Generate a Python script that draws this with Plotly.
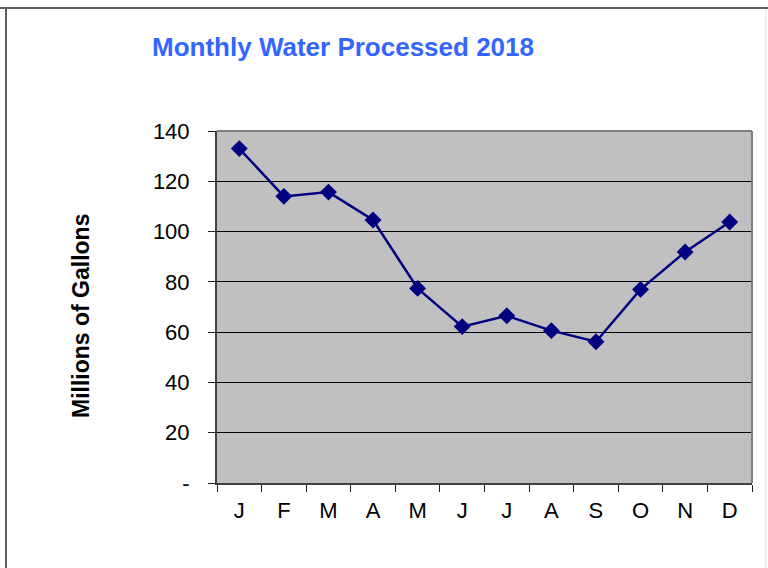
import plotly.graph_objects as go

month_labels = ["J", "F", "M", "A", "M", "J", "J", "A", "S", "O", "N", "D"]
water_millions_gal = [133.0, 114.0, 115.7, 104.6, 77.4, 62.2, 66.5, 60.6, 56.2, 77.0, 91.9, 103.8]
y_tick_values = [0, 20, 40, 60, 80, 100, 120, 140]
y_tick_labels = ["-", "20", "40", "60", "80", "100", "120", "140"]

W, H = 768, 568
L, R, T, B = 217, 16, 131, 85
pw, ph = W - L - R, H - T - B

def px_x(x):
    return (x - L) / pw

def px_y(y):
    return (H - B - y) / ph

x_pos = list(range(len(month_labels)))

fig = go.Figure()
fig.add_trace(go.Scatter(
    x=x_pos, y=water_millions_gal, mode="lines+markers",
    line=dict(color="#000080", width=2.5),
    marker=dict(symbol="diamond", size=13, color="#000080"),
    showlegend=False, cliponaxis=False,
))

fig.update_layout(
    width=W, height=H,
    margin=dict(l=L, r=R, t=T, b=B, pad=0),
    paper_bgcolor="white",
    plot_bgcolor="#C0C0C0",
    font=dict(family="Liberation Sans, Arial, sans-serif", color="black"),
    title=dict(
        text="<b>Monthly Water Processed 2018</b>",
        font=dict(size=26, color="#3366FF", family="Liberation Sans, Arial, sans-serif"),
        xref="container", yref="container",
        x=343 / W, xanchor="center",
        y=1 - 47 / H, yanchor="middle",
    ),
    xaxis=dict(
        range=[-0.5, len(month_labels) - 0.5],
        tickmode="array", tickvals=x_pos, ticktext=month_labels,
        ticks="", showgrid=False, zeroline=False,
        showline=True, linecolor="#404040", linewidth=2,
        tickfont=dict(size=22),
        ticklabelstandoff=7,
        minor=dict(tick0=-0.5, dtick=1, ticks="outside", ticklen=7,
                   tickcolor="#202020", tickwidth=1, showgrid=False),
        fixedrange=True,
    ),
    yaxis=dict(
        range=[0, 140],
        tickmode="array", tickvals=y_tick_values, ticktext=y_tick_labels,
        ticks="outside", ticklen=7, tickcolor="#202020", tickwidth=1,
        showgrid=True, gridcolor="#000000", gridwidth=1,
        zeroline=False,
        showline=True, linecolor="#404040", linewidth=2,
        tickfont=dict(size=22),
        ticklabelstandoff=14,
        fixedrange=True,
    ),
    annotations=[dict(
        text="<b>Millions of Gallons</b>",
        xref="paper", yref="paper",
        x=px_x(81), y=px_y(316),
        xanchor="center", yanchor="middle",
        textangle=-90, showarrow=False,
        font=dict(size=23, color="black"),
    )],
    shapes=[
        # plot area top and right borders
        dict(type="line", xref="paper", yref="paper", x0=0, x1=1, y0=1, y1=1,
             line=dict(color="#808080", width=2), layer="above"),
        dict(type="line", xref="paper", yref="paper", x0=1, x1=1, y0=0, y1=1,
             line=dict(color="#808080", width=2), layer="above"),
        # outer chart frame
        dict(type="line", xref="paper", yref="paper", x0=px_x(0), x1=px_x(W), y0=px_y(8), y1=px_y(8),
             line=dict(color="#606060", width=2), layer="above"),
        dict(type="line", xref="paper", yref="paper", x0=px_x(6), x1=px_x(6), y0=px_y(8), y1=px_y(H),
             line=dict(color="#606060", width=2), layer="above"),
        dict(type="line", xref="paper", yref="paper", x0=px_x(766), x1=px_x(766), y0=px_y(9), y1=px_y(H),
             line=dict(color="#DDDDDD", width=1), layer="above"),
    ],
)

fig.write_html(
    "out.html",
    config={"displayModeBar": False, "staticPlot": True},
    post_script="document.body.style.margin='0';document.body.style.overflow='hidden';",
)
